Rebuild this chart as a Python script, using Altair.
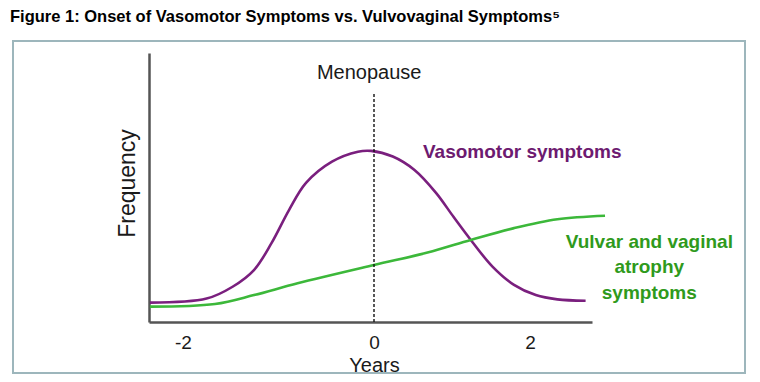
import altair as alt
import pandas as pd

# ---- data (years relative to menopause, relative frequency 0-100) ----
vaso_years = [-2.346, -1.753, -1.481, -1.257, -1.072, -0.890, -0.712, -0.440, -0.168, -0.031,
              0.241, 0.519, 0.795, 1.019, 1.241, 1.519, 1.795, 2.074, 2.351, 2.713]
vaso_freq = [7.2, 8.7, 13.1, 19.3, 29.4, 41.6, 51.7, 59.6, 63.3, 63.6,
             61.5, 56.5, 48.0, 39.1, 30.5, 20.6, 13.8, 10.0, 8.4, 7.9]

vva_years = [-2.346, -1.665, -1.257, -0.800, 0.0, 0.686, 1.241, 1.795, 2.351, 2.962]
vva_freq = [5.7, 6.7, 10.0, 14.4, 21.2, 25.8, 30.5, 34.9, 38.2, 39.5]

tick_values = [-2, 0, 2]
menopause_year = 0
menopause_top = 85

label_texts = ["Menopause", "Vasomotor symptoms", "Vulvar and vaginal", "atrophy", "symptoms"]
label_years = [-0.05, 1.90, 3.53, 3.53, 3.53]
label_freq = [92.6, 63.2, 29.9, 20.3, 10.7]
label_groups = ["menopause", "vaso", "vva", "vva", "vva"]

title_text = "Figure 1: Onset of Vasomotor Symptoms vs. Vulvovaginal Symptoms\u2075"

PURPLE = "#7a1f7e"
PURPLE_TXT = "#6d1a70"
GREEN = "#3cb83a"
GREEN_TXT = "#2f9a1c"
FONT = "Liberation Sans"

lines_df = pd.DataFrame(
    {"year": vaso_years + vva_years,
     "freq": vaso_freq + vva_freq,
     "series": ["Vasomotor symptoms"] * len(vaso_years) + ["Vulvar and vaginal atrophy symptoms"] * len(vva_years),
     "order": list(range(len(vaso_years))) + list(range(len(vva_years)))}
)
labels_df = pd.DataFrame({"text": label_texts, "year": label_years, "freq": label_freq, "group": label_groups})
rule_df = pd.DataFrame({"year": [menopause_year], "y0": [0], "y1": [menopause_top]})

xscale = alt.Scale(domain=[-2.356, -2, 0, 2, 2.795], range=[0, 34, 225, 381, 443], nice=False, zero=False)
yscale = alt.Scale(domain=[0, 100], nice=False, zero=False)

x_axis = alt.Axis(values=tick_values, title="Years", ticks=False, grid=False,
                  labelExpr="toString(datum.value)",
                  domainColor="#555555", domainWidth=2.5,
                  labelFont=FONT, labelFontSize=19, labelColor="#1a1a1a", labelPadding=11,
                  titleFont=FONT, titleFontSize=20, titleFontWeight="normal", titleColor="#1a1a1a",
                  titleX=225, titleY=43, titleBaseline="middle")
y_axis = alt.Axis(labels=False, ticks=False, grid=False, title="Frequency",
                  domainColor="#555555", domainWidth=2.5,
                  titleFont=FONT, titleFontSize=23, titleFontWeight="normal", titleColor="#1a1a1a",
                  titleX=-22, titleY=130, titleBaseline="middle", titleAngle=-90)

lines = alt.Chart(lines_df).mark_line(strokeWidth=2.6, interpolate="catmull-rom").encode(
    x=alt.X("year:Q", scale=xscale, axis=x_axis),
    y=alt.Y("freq:Q", scale=yscale, axis=y_axis),
    color=alt.Color("series:N", scale=alt.Scale(domain=["Vasomotor symptoms", "Vulvar and vaginal atrophy symptoms"],
                                                 range=[PURPLE, GREEN]), legend=None),
    order="order:Q",
)

rule = alt.Chart(rule_df).mark_rule(color="#111111", strokeWidth=1.4, strokeDash=[3, 2]).encode(
    x=alt.X("year:Q", scale=xscale), y=alt.Y("y0:Q", scale=yscale), y2="y1:Q"
)

menolabel = alt.Chart(labels_df).transform_filter("datum.group == 'menopause'").mark_text(
    font=FONT, fontSize=20, color="#1a1a1a", align="center", baseline="middle"
).encode(x=alt.X("year:Q", scale=xscale), y=alt.Y("freq:Q", scale=yscale), text="text:N")

vasolabel = alt.Chart(labels_df).transform_filter("datum.group == 'vaso'").mark_text(
    font=FONT, fontSize=19, fontWeight="bold", color=PURPLE_TXT, align="center", baseline="middle"
).encode(x=alt.X("year:Q", scale=xscale), y=alt.Y("freq:Q", scale=yscale), text="text:N")

vvalabel = alt.Chart(labels_df).transform_filter("datum.group == 'vva'").mark_text(
    font=FONT, fontSize=19, fontWeight="bold", color=GREEN_TXT, align="center", baseline="middle"
).encode(x=alt.X("year:Q", scale=xscale), y=alt.Y("freq:Q", scale=yscale), text="text:N")

frame = alt.Chart(pd.DataFrame({"a": [0]})).mark_rect(
    fill=None, stroke="#9db6bc", strokeWidth=2
).encode(x=alt.value(-136), x2=alt.value(596), y=alt.value(-12), y2=alt.value(320))

title = alt.Chart(pd.DataFrame({"t": [title_text]})).mark_text(
    font=FONT, fontSize=16.5, fontWeight="bold", color="#000000", align="left", baseline="middle"
).encode(x=alt.value(-139), y=alt.value(-36), text="t:N")

chart = alt.layer(frame, lines, rule, menolabel, vasolabel, vvalabel, title).properties(
    width=443, height=269,
    autosize=alt.AutoSizeParams(type="none"),
    padding={"left": 141, "top": 45, "right": 160, "bottom": 52},
    background="white",
).configure_view(stroke=None)

chart.save("out.html", embed_options={"renderer": "svg", "actions": False})
